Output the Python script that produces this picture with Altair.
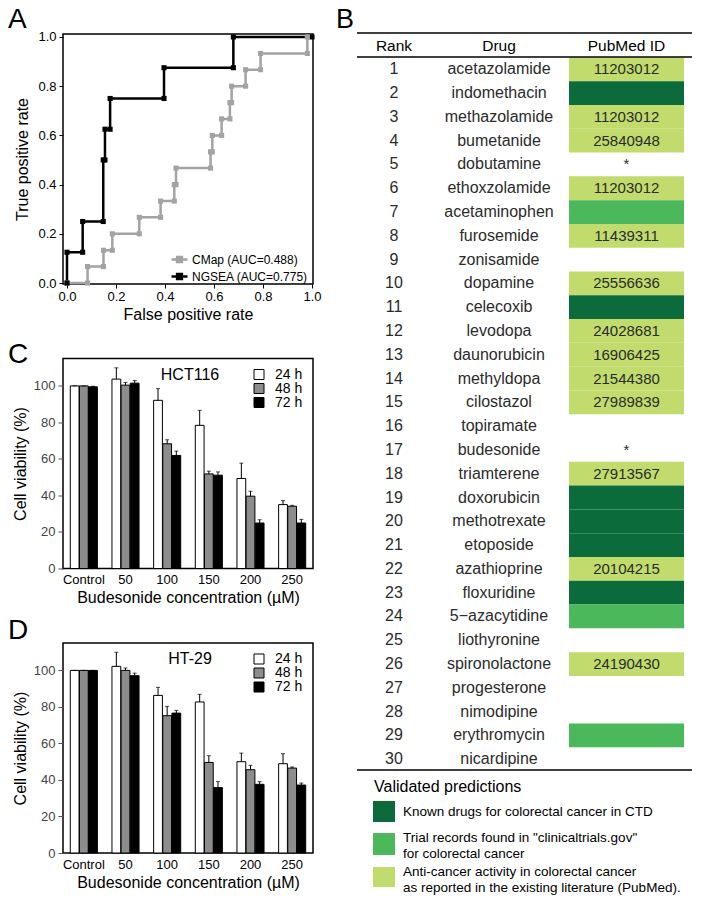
import altair as alt
import pandas as pd

# ---------------- Panel A : ROC curves (vertices) ----------------
roc_series = ["CMap (AUC=0.488)", "NGSEA (AUC=0.775)"]
cmap_fpr = [0.0, 0.084, 0.084, 0.149, 0.149, 0.185, 0.185, 0.295, 0.295, 0.382, 0.382,
            0.438, 0.438, 0.445, 0.445, 0.586, 0.586, 0.593, 0.593, 0.631, 0.631,
            0.665, 0.665, 0.672, 0.672, 0.729, 0.729, 0.790, 0.790, 0.981, 0.981]
cmap_tpr = [0.0, 0.0, 0.067, 0.067, 0.133, 0.133, 0.2, 0.2, 0.267, 0.267, 0.333,
            0.333, 0.4, 0.4, 0.467, 0.467, 0.533, 0.533, 0.6, 0.6, 0.667,
            0.667, 0.733, 0.733, 0.8, 0.8, 0.867, 0.867, 0.933, 0.933, 1.0]
ngsea_fpr = [0.0, 0.0, 0.064, 0.064, 0.148, 0.148, 0.155, 0.155, 0.176, 0.176,
             0.396, 0.396, 0.679, 0.679, 1.0]
ngsea_tpr = [0.0, 0.125, 0.125, 0.25, 0.25, 0.5, 0.5, 0.625, 0.625, 0.75,
             0.75, 0.875, 0.875, 1.0, 1.0]
roc_ticks = [0.0, 0.2, 0.4, 0.6, 0.8, 1.0]

# ---------------- Panels C / D : cell viability ----------------
conc_labels = ["Control", "50", "100", "150", "200", "250"]
times = ["24 h", "48 h", "72 h"]
hct_24 = [100, 103.7, 92.1, 78.4, 49.3, 35.0]
hct_24_err = [0, 6.2, 6.4, 8.2, 8.4, 2.2]
hct_48 = [100, 100.4, 68.3, 51.8, 39.6, 34.1]
hct_48_err = [0, 1.5, 2.2, 1.5, 2.7, 0.5]
hct_72 = [99.5, 101.5, 61.9, 51.1, 24.9, 24.9]
hct_72_err = [0.3, 1.4, 2.4, 1.8, 1.8, 2.0]
ht_24 = [100, 102.2, 86.3, 82.7, 50.0, 48.9]
ht_24_err = [0, 7.7, 4.4, 4.2, 4.7, 5.5]
ht_48 = [100, 100.0, 75.2, 49.6, 45.6, 46.5]
ht_48_err = [0, 1.3, 5.1, 3.7, 2.4, 0.6]
ht_72 = [100, 97.1, 76.6, 35.8, 37.6, 37.2]
ht_72_err = [0, 1.4, 1.5, 3.3, 1.5, 1.1]
viab_ticks = [0, 20, 40, 60, 80, 100]

# ---------------- Panel B : table ----------------
ranks = list(range(1, 31))
drugs = ["acetazolamide", "indomethacin", "methazolamide", "bumetanide", "dobutamine",
         "ethoxzolamide", "acetaminophen", "furosemide", "zonisamide", "dopamine",
         "celecoxib", "levodopa", "daunorubicin", "methyldopa", "cilostazol",
         "topiramate", "budesonide", "triamterene", "doxorubicin", "methotrexate",
         "etoposide", "azathioprine", "floxuridine", "5\u2212azacytidine", "liothyronine",
         "spironolactone", "progesterone", "nimodipine", "erythromycin", "nicardipine"]
pubmed = ["11203012", "", "11203012", "25840948", "*",
          "11203012", "", "11439311", "", "25556636",
          "", "24028681", "16906425", "21544380", "27989839",
          "", "*", "27913567", "", "",
          "", "20104215", "", "", "",
          "24190430", "", "", "", ""]
evidence = ["lit", "ctd", "lit", "lit", "",
            "lit", "trial", "lit", "", "lit",
            "ctd", "lit", "lit", "lit", "lit",
            "", "", "lit", "ctd", "ctd",
            "ctd", "lit", "ctd", "trial", "",
            "lit", "", "", "trial", ""]
header_labels = ["Rank", "Drug", "PubMed ID"]
evidence_keys = ["ctd", "trial", "lit"]
evidence_colors = ["#0b6b3a", "#4bb85c", "#c1dc6c"]
legend_title = "Validated predictions"
legend_lines = [["Known drugs for colorectal cancer in CTD"],
                ["Trial records found in \"clinicaltrials.gov\"", "for colorectal cancer"],
                ["Anti-cancer activity in colorectal cancer",
                 "as reported in the existing literature (PubMed)."]]

TXT = "#2b2b2b"


def label(letter, x, y, size=28, align="left"):
    return alt.Chart(pd.DataFrame({"t": [letter]})).mark_text(
        fontSize=size, align=align, baseline="alphabetic", color="black"
    ).encode(text="t:N", x=alt.value(x), y=alt.value(y))


# ---------------- Panel A chart ----------------
roc_rows = []
for i, (fx, ty) in enumerate(zip(cmap_fpr, cmap_tpr)):
    roc_rows.append({"series": roc_series[0], "fpr": fx, "tpr": ty, "idx": i})
for i, (fx, ty) in enumerate(zip(ngsea_fpr, ngsea_tpr)):
    roc_rows.append({"series": roc_series[1], "fpr": fx, "tpr": ty, "idx": i})
roc_df = pd.DataFrame(roc_rows)

roc_lines = alt.Chart(roc_df).mark_line(
    strokeWidth=2.5,
    point=alt.OverlayMarkDef(shape="square", size=26, filled=True),
).encode(
    x=alt.X("fpr:Q",
            scale=alt.Scale(domain=[-0.0163, 1.0041], nice=False, zero=False),
            axis=alt.Axis(values=roc_ticks, format=".1f", title="False positive rate",
                          grid=False, domain=False, tickSize=4, tickColor="black",
                          labelColor="black", labelFontSize=13, titleFontSize=16,
                          titleFontWeight="normal", labelPadding=2, titlePadding=3)),
    y=alt.Y("tpr:Q",
            scale=alt.Scale(domain=[-0.004, 1.012], nice=False, zero=False),
            axis=alt.Axis(values=roc_ticks, format=".1f", title="True positive rate",
                          grid=False, domain=False, tickSize=4, tickColor="black",
                          labelColor="black", labelFontSize=13, titleFontSize=16,
                          titleFontWeight="normal", labelPadding=3, titlePadding=7)),
    color=alt.Color("series:N",
                    scale=alt.Scale(domain=roc_series, range=["#a3a3a3", "black"]),
                    title=None,
                    legend=alt.Legend(orient="none", legendX=107, legendY=216,
                                      symbolType="M-1,0H1M-0.3,-0.3H0.3V0.3H-0.3Z",
                                      symbolSize=256, symbolStrokeWidth=2.5,
                                      labelFontSize=12, labelColor="black",
                                      labelOffset=3, rowPadding=-6, padding=0,
                                      labelLimit=300)),
    order="idx:Q",
)

# the "B" panel letter is placed from panel A's frame so the table can start at its top rule
chart_a = alt.layer(roc_lines, label("A", -55, -6),
                    label("B", 291, -6, size=27, align="right")).properties(
    width=250, height=250,
    view=alt.ViewBackground(stroke="black", strokeWidth=1.5),
)


# ---------------- Panels C / D ----------------
def viability(v24, e24, v48, e48, v72, e72, cell_line, letter, letter_y):
    rows = []
    for t, vals, errs in zip(times, [v24, v48, v72], [e24, e48, e72]):
        for c, v, e in zip(conc_labels, vals, errs):
            rows.append({"conc": c, "time": t, "value": v, "hi": v + e})
    df = pd.DataFrame(rows)
    xenc = alt.X("conc:N",
                 scale=alt.Scale(domain=conc_labels, paddingInner=0.35, paddingOuter=0.175),
                 axis=alt.Axis(title="Budesonide concentration (\u00b5M)", labelAngle=0,
                               ticks=False, domain=False, labelFontSize=13,
                               labelColor="black", titleFontSize=16,
                               titleFontWeight="normal", labelPadding=5, titlePadding=3))
    xoff = alt.XOffset("time:N", scale=alt.Scale(domain=times, paddingInner=0.04))
    yaxis = alt.Axis(values=viab_ticks, title="Cell viability (%)", grid=False,
                     domain=False, tickSize=5, tickColor="#555555", labelColor="#444444",
                     labelFontSize=13, titleFontSize=16, titleFontWeight="normal",
                     labelPadding=3, titlePadding=5)
    yscale = alt.Scale(domain=[0, 115], nice=False)
    base = alt.Chart(df)
    bars = base.mark_bar(stroke="black", strokeWidth=1).encode(
        x=xenc, xOffset=xoff,
        y=alt.Y("value:Q", scale=yscale, axis=yaxis, title="Cell viability (%)"),
        fill=alt.Fill("time:N",
                      scale=alt.Scale(domain=times, range=["white", "#8c8c8c", "black"]),
                      title=None,
                      legend=alt.Legend(orient="none", legendX=189, legendY=9,
                                        symbolType="square", symbolSize=100,
                                        symbolStrokeColor="black", symbolStrokeWidth=1,
                                        labelFontSize=14, labelColor="black",
                                        labelOffset=9, rowPadding=0, padding=0)),
    )
    err = base.mark_rule(color="black", strokeWidth=1).encode(
        x=xenc, xOffset=xoff,
        y=alt.Y("value:Q", scale=yscale, title="Cell viability (%)"),
        y2="hi:Q",
    )
    cap = base.mark_tick(color="black", thickness=1, size=4).encode(
        x=xenc, xOffset=xoff,
        y=alt.Y("hi:Q", scale=yscale, title="Cell viability (%)"),
    )
    ttl = alt.Chart(pd.DataFrame({"t": [cell_line]})).mark_text(
        fontSize=16, color="black", baseline="middle", align="center"
    ).encode(text="t:N", x=alt.value(127), y=alt.value(16))
    return alt.layer(bars, err, cap, ttl, label(letter, -55, letter_y)).properties(
        width=250, height=210,
        view=alt.ViewBackground(stroke="black", strokeWidth=1.5),
    )


chart_c = viability(hct_24, hct_24_err, hct_48, hct_48_err, hct_72, hct_72_err,
                    "HCT116", "C", 4)
chart_d = viability(ht_24, ht_24_err, ht_48, ht_48_err, ht_72, ht_72_err,
                    "HT-29", "D", -4)

# ---------------- Panel B : table ----------------
tab = pd.DataFrame({"rank": ranks, "drug": drugs, "pubmed": pubmed, "evidence": evidence})
tab["y0"] = tab["rank"] - 0.5
tab["y1"] = tab["rank"] + 0.5
rank_scale = alt.Scale(domain=[-0.4834, 30.454], reverse=True, nice=False, zero=False)
TW = 335

cells = alt.Chart(tab[tab["evidence"] != ""]).mark_rect().encode(
    x=alt.value(212), x2=alt.value(327),
    y=alt.Y("y0:Q", scale=rank_scale, axis=None), y2="y1:Q",
    fill=alt.Fill("evidence:N",
                  scale=alt.Scale(domain=evidence_keys, range=evidence_colors),
                  legend=None),
)
rank_txt = alt.Chart(tab).mark_text(fontSize=16, color=TXT).encode(
    x=alt.value(37), y=alt.Y("rank:Q", scale=rank_scale, axis=None), text="rank:Q")
drug_txt = alt.Chart(tab).mark_text(fontSize=16, color=TXT).encode(
    x=alt.value(142), y=alt.Y("rank:Q", scale=rank_scale, axis=None), text="drug:N")
pm_txt = alt.Chart(tab).mark_text(fontSize=15, color=TXT).encode(
    x=alt.value(269.5), y=alt.Y("rank:Q", scale=rank_scale, axis=None), text="pubmed:N")

one = pd.DataFrame({"k": [0]})
table_layers = [cells, rank_txt, drug_txt, pm_txt]
for yy in [-1, 23, 736]:
    table_layers.append(alt.Chart(one).mark_rule(color="black", strokeWidth=1.5).encode(
        x=alt.value(0), x2=alt.value(TW), y=alt.value(yy)))
for txt, xx in zip(header_labels, [37, 142, 269.5]):
    table_layers.append(alt.Chart(pd.DataFrame({"t": [txt]})).mark_text(
        fontSize=15.5, color="black", baseline="middle").encode(
        text="t:N", x=alt.value(xx), y=alt.value(11.5)))

# legend of validated predictions
table_layers.append(alt.Chart(pd.DataFrame({"t": [legend_title]})).mark_text(
    fontSize=16, color="black", align="left", baseline="middle").encode(
    text="t:N", x=alt.value(17), y=alt.value(753)))
sq_top = [767, 799, 833]
sq_bot = [788, 821, 853]
line_y = [[778], [804, 820], [838, 854]]
for key, col, lines, t0, t1, ys in zip(evidence_keys, evidence_colors, legend_lines,
                                       sq_top, sq_bot, line_y):
    table_layers.append(alt.Chart(pd.DataFrame({"k": [key]})).mark_rect(color=col).encode(
        x=alt.value(16), x2=alt.value(38), y=alt.value(t0), y2=alt.value(t1)))
    for ln, yy in zip(lines, ys):
        table_layers.append(alt.Chart(pd.DataFrame({"t": [ln]})).mark_text(
            fontSize=13.5, color="black", align="left", baseline="middle").encode(
            text="t:N", x=alt.value(46), y=alt.value(yy)))

chart_b = alt.layer(*table_layers).properties(width=TW, height=736)

left = alt.vconcat(chart_a, chart_c, chart_d, spacing=74.5, bounds="flush").resolve_scale(
    fill="independent", color="independent")
chart = alt.hconcat(left, chart_b, spacing=0).resolve_scale(
    fill="independent", color="independent"
).properties(
    autosize=alt.AutoSizeParams(type="none"),
    padding={"left": 55, "top": 26, "right": 631, "bottom": 862},
).configure(
    font="Liberation Sans"
).configure_view(stroke="transparent")

chart.save("out.html", embed_options={"renderer": "svg", "actions": False})
